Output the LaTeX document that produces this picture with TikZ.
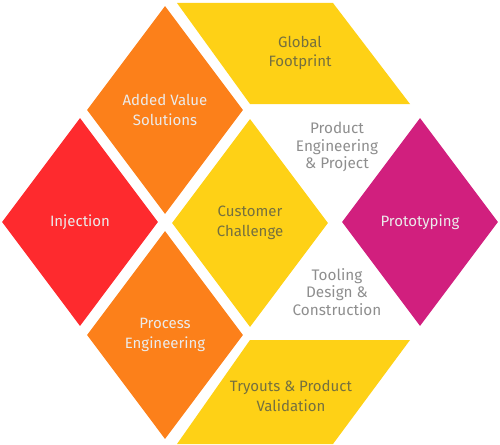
\documentclass[tikz,border=0pt]{standalone}
\usepackage{fontspec}
\setmainfont{Fira Sans}
\usetikzlibrary{shapes.geometric}
\definecolor{cred}{HTML}{FE2A2E}
\definecolor{corange}{HTML}{FC801A}
\definecolor{cyellow}{HTML}{FED116}
\definecolor{cmagenta}{HTML}{D11F7E}
\definecolor{ontext}{HTML}{75703F}
\definecolor{graytext}{HTML}{8E8E8E}
\begin{document}
\begin{tikzpicture}[x=1pt,y=-1pt,
  dia/.style={diamond,inner sep=0pt,minimum width=156pt,minimum height=208pt,
    align=center,font=\fontsize{15}{20}\selectfont},
  lbl/.style={align=center,inner sep=0pt,font=\fontsize{15.3}{17.8}\selectfont},
  wtext/.style={text=white!92!black},
  ytext/.style={text=ontext}]
\useasboundingbox (0,0) rectangle (500,444);
\node[dia,fill=cred,wtext] (inj) at (80,222) {Injection};
\node[dia,fill=corange,wtext] (avs) at (165,110) {Added Value\\Solutions};
\node[dia,fill=cyellow,ytext] (cc) at (250,223) {Customer\\Challenge};
\node[dia,fill=corange,wtext] (pe) at (165,335) {Process\\Engineering};
\node[dia,fill=cmagenta,wtext] (proto) at (420,222) {Prototyping};
\fill[cyellow] (177,3) -- (333,3) -- (410,104) -- (250,104) -- cycle;
\fill[cyellow] (250,340) -- (410,340) -- (333,444) -- (177,444) -- cycle;
\node[lbl,ytext,font=\fontsize{15}{19.5}\selectfont] (gf) at (300,53) {Global\\Footprint};
\node[lbl,ytext,font=\fontsize{15}{19.5}\selectfont] (tpv) at (291,396) {Tryouts \& Product\\Validation};
\node[lbl,text=graytext] (pep) at (337,147) {Product\\Engineering\\\& Project};
\node[lbl,text=graytext] (tdc) at (337,292) {Tooling\\Design \&\\Construction};
\end{tikzpicture}
\end{document}
